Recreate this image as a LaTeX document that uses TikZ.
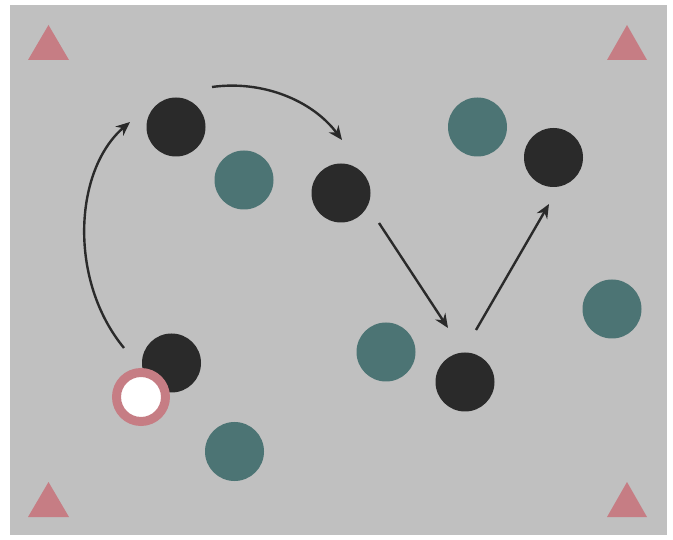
\documentclass[tikz,border=0pt]{standalone}
\usetikzlibrary{arrows.meta}
\definecolor{field}{HTML}{C0C0C0}
\definecolor{cone}{HTML}{C67D84}
\definecolor{teal}{HTML}{4C7474}
\definecolor{dark}{HTML}{2A2A2A}
\tikzset{
  marker/.style={fill=cone, draw=none},
  attacker/.style={circle, fill=dark, draw=none, minimum size=59pt, inner sep=0pt},
  defender/.style={circle, fill=teal, draw=none, minimum size=59pt, inner sep=0pt},
  ballring/.style={circle, fill=white, draw=cone, line width=9pt, minimum size=49pt, inner sep=0pt},
  move/.style={draw=dark, line width=2.4pt, -{Stealth[length=14pt, width=12pt]}},
}
\begin{document}
\begin{tikzpicture}[x=1pt, y=-1pt]
  % canvas and pitch
  \useasboundingbox (0,0) rectangle (673,540);
  \fill[white] (0,0) rectangle (673,540);
  \fill[field] (10,5) rectangle (667,535);

  % corner cones
  \fill[marker] (28,60) -- (48.5,25) -- (69,60) -- cycle;
  \fill[marker] (607,60) -- (627,25) -- (647,60) -- cycle;
  \fill[marker] (28,517) -- (48.5,482) -- (69,517) -- cycle;
  \fill[marker] (607,517) -- (627,482) -- (647,517) -- cycle;

  % defenders
  \node[defender] (d1) at (244,180) {};
  \node[defender] (d2) at (477.5,127) {};
  \node[defender] (d3) at (386,352) {};
  \node[defender] (d4) at (612,309) {};
  \node[defender] (d5) at (234.5,451.5) {};

  % attackers
  \node[attacker] (a1) at (176,127) {};
  \node[attacker] (a2) at (341,193) {};
  \node[attacker] (a3) at (553.5,157.5) {};
  \node[attacker] (a4) at (171.5,363) {};
  \node[attacker] (a5) at (465,382) {};

  % ball
  \node[ballring] (ball) at (141,397) {};

  % run endpoints
  \coordinate (r1s) at (124,348);
  \coordinate (r1e) at (130,122);
  \coordinate (r2s) at (212,87);
  \coordinate (r2e) at (342,140);
  \coordinate (r3s) at (379,223);
  \coordinate (r3e) at (448,328);
  \coordinate (r4s) at (476,330);
  \coordinate (r4e) at (549,204);

  % movement paths
  \draw[move] (r1s) .. controls (68,280) and (74,170) .. (r1e);
  \draw[move] (r2s) .. controls (262,80) and (312,100) .. (r2e);
  \draw[move] (r3s) -- (r3e);
  \draw[move] (r4s) -- (r4e);
\end{tikzpicture}
\end{document}
